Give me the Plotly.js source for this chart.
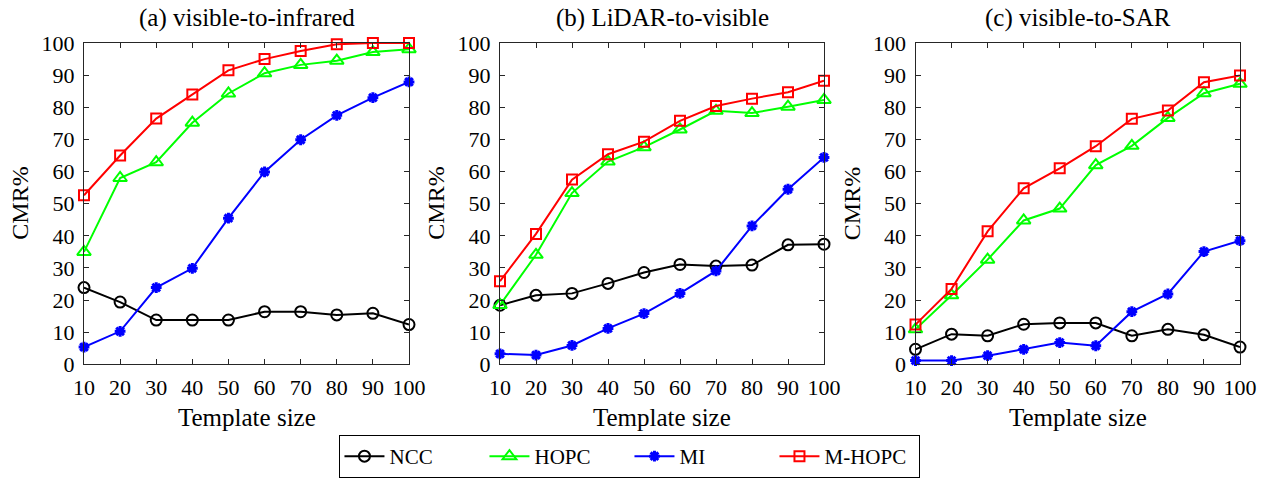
<!DOCTYPE html>
<html><head><meta charset="utf-8">
<script src="https://cdn.plot.ly/plotly-3.0.1.min.js"></script>
<style>html,body{margin:0;padding:0;background:#fff}#chart{width:1266px;height:478px}</style>
</head><body><div id="chart"></div>
<script>
const templateSize = [10,20,30,40,50,60,70,80,90,100];
const seriesNames = ['NCC','HOPC','MI','M-HOPC'];
const panelTitles = ['(a) visible-to-infrared','(b) LiDAR-to-visible','(c) visible-to-SAR'];
const yTicks = [0,10,20,30,40,50,60,70,80,90,100];

// (a) visible-to-infrared
const a_NCC   = [23.9,19.4,13.8,13.8,13.8,16.4,16.4,15.4,15.9,12.4];
const a_HOPC  = [35.0,58.0,62.9,75.2,84.3,90.6,93.2,94.5,97.2,98.1];
const a_MI    = [5.4,10.3,23.9,29.9,45.5,59.9,69.9,77.5,83.0,87.9];
const a_MHOPC = [52.6,65.0,76.5,84.0,91.5,95.0,97.5,99.6,100,100];
// (b) LiDAR-to-visible
const b_NCC   = [18.4,21.5,22.1,25.2,28.6,31.1,30.6,30.9,37.2,37.4];
const b_HOPC  = [18.5,34.1,53.3,63.1,67.6,73.1,78.9,78.2,80.2,82.3];
const b_MI    = [3.3,2.9,5.9,11.2,15.8,22.1,29.1,43.1,54.5,64.4];
const b_MHOPC = [25.9,40.6,57.5,65.4,69.3,75.8,80.4,82.7,84.7,88.3];
// (c) visible-to-SAR
const c_NCC   = [4.7,9.4,8.9,12.5,12.9,12.9,8.9,10.9,9.2,5.4];
const c_HOPC  = [10.9,21.5,32.6,44.8,48.5,62.0,68.0,76.7,84.4,87.3];
const c_MI    = [1.2,1.2,2.7,4.7,6.8,5.8,16.4,21.9,35.1,38.5];
const c_MHOPC = [12.4,23.5,41.4,54.8,61.0,67.9,76.4,79.0,87.8,89.9];

const panels = [[a_NCC,a_HOPC,a_MI,a_MHOPC],[b_NCC,b_HOPC,b_MI,b_MHOPC],[c_NCC,c_HOPC,c_MI,c_MHOPC]];
const colors = ['#000000','#00ff00','#0000ff','#ff0000'];
const symbols = ['circle-open','triangle-up-open','asterisk-open','square-open'];
const sizes = [11,12,9,10];

const traces = [];
panels.forEach((p,pi)=>{
  p.forEach((vals,si)=>{
    traces.push({
      x: templateSize, y: vals, type:'scatter', mode:'lines+markers',
      name: seriesNames[si], legendgroup: seriesNames[si], showlegend: pi===0,
      xaxis: pi===0?'x':'x'+(pi+1), yaxis: pi===0?'y':'y'+(pi+1),
      cliponaxis:false,
      line:{color:colors[si], width:2},
      marker:{symbol:symbols[si], size:sizes[si], color:colors[si], line:{color:colors[si], width:si===2?3:2}}
    });
  });
});

const font = {family:'Liberation Serif', color:'#000'};
const doms = [[84/1266,409/1266],[500/1266,824/1266],[915.5/1266,1240/1266]];
const yd = [1-366.7/478, 1-43.3/478];
const layout = {
  width:1266, height:478, margin:{l:0,r:0,t:0,b:0},
  paper_bgcolor:'#fff', plot_bgcolor:'#fff',
  font:Object.assign({size:20},font),
  showlegend:true,
  legend:{orientation:'h', x:0.4976, xanchor:'center', y:1-438/478, yanchor:'top',
    bordercolor:'#000', borderwidth:1, font:Object.assign({size:21},font),
    entrywidth:90, itemwidth:40, tracegroupgap:0},
  annotations:[]
};
doms.forEach((d,i)=>{
  const xk = i===0?'xaxis':'xaxis'+(i+1), yk = i===0?'yaxis':'yaxis'+(i+1);
  const yanch = i===0?'y':'y'+(i+1), xanch = i===0?'x':'x'+(i+1);
  layout[xk] = {domain:d, anchor:yanch, range:[10,100], tickvals:templateSize, ticks:'inside', ticklen:5,
    tickcolor:'#262626', showline:true, linecolor:'#262626', linewidth:1, mirror:'ticks', showgrid:false, zeroline:false,
    tickfont:Object.assign({size:22},font), ticklabelstandoff:3, fixedrange:true};
  layout[yk] = {domain:yd, anchor:xanch, range:[0,100], tickvals:yTicks, ticks:'inside', ticklen:5,
    tickcolor:'#262626', showline:true, linecolor:'#262626', linewidth:1, mirror:'ticks', showgrid:false, zeroline:false,
    tickfont:Object.assign({size:22},font), ticklabelstandoff:4, fixedrange:true};
  layout.annotations.push({text:panelTitles[i], xref:'paper', yref:'paper', x:(d[0]+d[1])/2, y:1-18/478,
    xanchor:'center', yanchor:'middle', showarrow:false, font:Object.assign({size:25},font)});
  layout.annotations.push({text:'Template size', xref:'paper', yref:'paper', x:(d[0]+d[1])/2, y:1-420/478,
    xanchor:'center', yanchor:'middle', showarrow:false, font:Object.assign({size:25},font)});
  layout.annotations.push({text:'CMR%', xref:'paper', yref:'paper', x:d[0]-64/1266, y:(yd[0]+yd[1])/2,
    xanchor:'center', yanchor:'middle', textangle:-90, showarrow:false, font:Object.assign({size:24},font)});
});
Plotly.newPlot('chart', traces, layout, {displayModeBar:false, staticPlot:true});
</script></body></html>
